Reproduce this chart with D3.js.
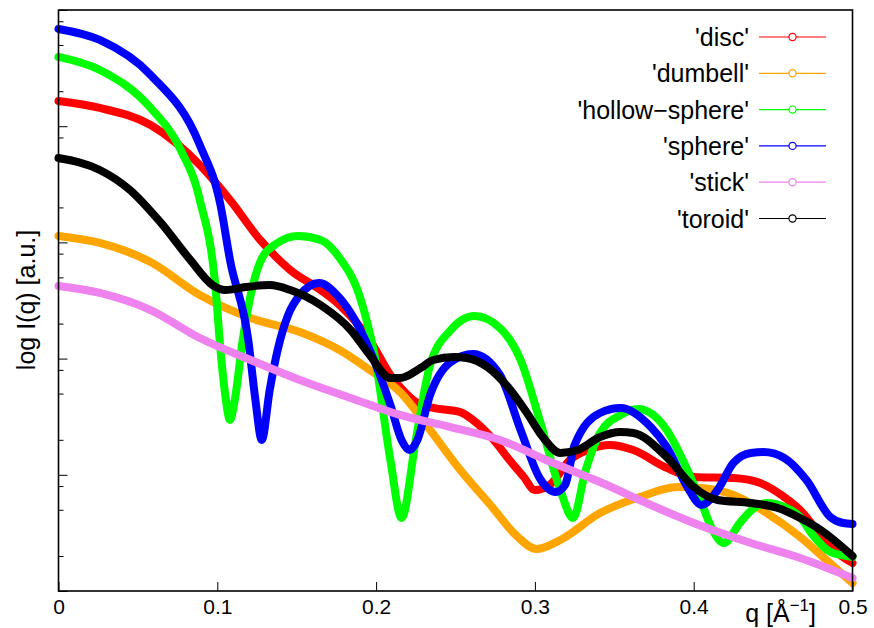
<!DOCTYPE html>
<html>
<head>
<meta charset="utf-8">
<script src="https://cdn.jsdelivr.net/npm/d3@7"></script>
<style>
  html, body { margin: 0; padding: 0; background: #fff; }
  text { font-family: "Liberation Sans", Arial, sans-serif; }
</style>
</head>
<body>
<svg id="chart" width="874" height="628"></svg>
<script>
// ---- data: [q (1/Å), log10 I(q)] ----
const seriesNames = ["'disc'", "'dumbell'", "'hollow\u2212sphere'", "'sphere'", "'stick'", "'toroid'"];
const seriesColors = ["#ff0000", "#ffa500", "#00ff00", "#0000ff", "#ee82ee", "#000000"];

const disc = [[0,4.217],[0.026,4.157],[0.058,4.010],[0.089,3.666],[0.108,3.365],[0.127,3.021],[0.146,2.762],[0.165,2.590],[0.177,2.461],[0.196,2.160],[0.209,1.859],[0.215,1.756],[0.226,1.618],[0.236,1.575],[0.253,1.540],[0.261,1.472],[0.274,1.300],[0.284,1.127],[0.293,0.981],[0.300,0.869],[0.310,0.921],[0.322,1.127],[0.335,1.222],[0.347,1.256],[0.362,1.213],[0.383,1.059],[0.400,0.981],[0.425,0.972],[0.442,0.929],[0.457,0.809],[0.467,0.697],[0.480,0.482],[0.492,0.310],[0.500,0.241]];

const dumbell = [[0,3.055],[0.026,2.995],[0.058,2.831],[0.089,2.547],[0.121,2.349],[0.152,2.229],[0.177,2.074],[0.196,1.902],[0.215,1.713],[0.234,1.386],[0.253,1.041],[0.272,0.740],[0.288,0.482],[0.301,0.361],[0.316,0.439],[0.341,0.671],[0.366,0.809],[0.390,0.895],[0.405,0.886],[0.425,0.826],[0.446,0.671],[0.467,0.465],[0.480,0.310],[0.500,0.069]];

const hollowSphere = [[0,4.596],[0.026,4.484],[0.058,4.157],[0.077,3.795],[0.089,3.365],[0.099,2.590],[0.102,2.074],[0.105,1.687],[0.108,1.472],[0.111,1.644],[0.116,2.160],[0.121,2.547],[0.127,2.831],[0.136,2.978],[0.151,3.055],[0.165,3.021],[0.177,2.866],[0.190,2.522],[0.199,2.031],[0.209,1.127],[0.216,0.628],[0.225,1.300],[0.234,1.945],[0.247,2.246],[0.262,2.367],[0.278,2.263],[0.291,1.988],[0.303,1.472],[0.316,0.869],[0.324,0.628],[0.332,1.041],[0.341,1.360],[0.354,1.515],[0.365,1.566],[0.383,1.386],[0.394,1.102],[0.405,0.757],[0.411,0.551],[0.419,0.413],[0.429,0.585],[0.438,0.714],[0.446,0.757],[0.457,0.723],[0.467,0.637],[0.475,0.482],[0.486,0.336],[0.500,0.293]];

const sphere = [[0,4.837],[0.026,4.742],[0.058,4.441],[0.089,3.838],[0.102,3.322],[0.108,2.849],[0.1195,2.160],[0.124,1.644],[0.128,1.300],[0.133,1.730],[0.138,2.074],[0.1446,2.375],[0.152,2.547],[0.164,2.651],[0.177,2.522],[0.196,2.074],[0.209,1.601],[0.216,1.300],[0.221,1.213],[0.226,1.300],[0.234,1.687],[0.247,1.971],[0.261,2.040],[0.278,1.859],[0.291,1.386],[0.303,0.972],[0.313,0.852],[0.319,0.912],[0.325,1.256],[0.341,1.532],[0.354,1.575],[0.373,1.411],[0.383,1.239],[0.396,0.895],[0.405,0.740],[0.415,0.869],[0.425,1.102],[0.436,1.188],[0.444,1.196],[0.457,1.145],[0.471,0.955],[0.486,0.637],[0.494,0.585],[0.500,0.577]];

const stick = [[0,2.625],[0.026,2.565],[0.058,2.418],[0.089,2.177],[0.121,1.988],[0.152,1.816],[0.184,1.661],[0.215,1.515],[0.247,1.411],[0.278,1.300],[0.310,1.110],[0.341,0.938],[0.373,0.740],[0.405,0.559],[0.436,0.413],[0.467,0.284],[0.500,0.112]];

const toroid = [[0,3.726],[0.026,3.623],[0.045,3.451],[0.064,3.176],[0.083,2.849],[0.097,2.633],[0.105,2.590],[0.118,2.616],[0.133,2.633],[0.146,2.590],[0.165,2.461],[0.184,2.246],[0.196,2.031],[0.209,1.833],[0.215,1.833],[0.228,1.919],[0.236,1.988],[0.249,2.014],[0.257,2.005],[0.270,1.928],[0.283,1.756],[0.295,1.532],[0.305,1.325],[0.316,1.188],[0.327,1.213],[0.341,1.325],[0.354,1.368],[0.362,1.360],[0.383,1.153],[0.400,0.895],[0.415,0.783],[0.436,0.757],[0.453,0.714],[0.467,0.628],[0.480,0.525],[0.500,0.301]];

const xTickValues = [0, 0.1, 0.2, 0.3, 0.4, 0.5];
const xTickLabels = ["0", "0.1", "0.2", "0.3", "0.4", "0.5"];
const yDecades = [1, 10, 100, 1000, 10000, 100000];
const yMinorMultipliers = [2, 5, 8];

// ---- layout ----
const svg = d3.select("#chart");
const L = 58.5, R = 852.5, T = 10, B = 591;

const x = d3.scaleLinear().domain([0, 0.5]).range([L, R]);
const y = d3.scaleLog().domain([1, 1e5]).range([B, T]);

svg.append("rect").attr("width", 874).attr("height", 628).attr("fill", "#fff");

const data = [disc, dumbell, hollowSphere, sphere, stick, toroid];

const line = d3.line()
  .x(d => x(d[0]))
  .y(d => y(Math.pow(10, d[1])))
  .curve(d3.curveMonotoneX);

const plot = svg.append("g");
data.forEach((s, i) => {
  plot.append("path")
    .attr("d", line(s))
    .attr("fill", "none")
    .attr("stroke", seriesColors[i])
    .attr("stroke-width", 8)
    .attr("stroke-linecap", "round")
    .attr("stroke-linejoin", "round");
});

// ---- axes ----
const xAxis = d3.axisBottom(x)
  .tickValues(xTickValues)
  .tickFormat((d, i) => xTickLabels[i])
  .tickSize(-9)
  .tickPadding(8);
const gx = svg.append("g").attr("transform", `translate(0,${B})`).call(xAxis);
gx.select(".domain").remove();
gx.selectAll("line").attr("stroke", "#000").attr("stroke-width", 1);
gx.selectAll("text").attr("font-size", 21).attr("fill", "#000")
  .attr("font-family", "Liberation Sans, Arial, sans-serif");

const minorVals = [];
yDecades.forEach(dv => yMinorMultipliers.forEach(m => { if (dv * m < 1e5) minorVals.push(dv * m); }));

const yMajor = d3.axisLeft(y).tickValues(yDecades).tickFormat("").tickSize(-9);
const yMinor = d3.axisLeft(y).tickValues(minorVals).tickFormat("").tickSize(-5);
const gy1 = svg.append("g").attr("transform", `translate(${L},0)`).call(yMajor);
const gy2 = svg.append("g").attr("transform", `translate(${L},0)`).call(yMinor);
[gy1, gy2].forEach(g => {
  g.select(".domain").remove();
  g.selectAll("line").attr("stroke", "#000").attr("stroke-width", 1);
});

// frame
svg.append("rect")
  .attr("x", L).attr("y", T).attr("width", R - L).attr("height", B - T)
  .attr("fill", "none").attr("stroke", "#000").attr("stroke-width", 1.6);

// axis labels
svg.append("text")
  .attr("transform", `translate(35,300) rotate(-90)`)
  .attr("text-anchor", "middle")
  .attr("font-size", 25)
  .text("log I(q) [a.u.]");

const xl = svg.append("text")
  .attr("x", 816).attr("y", 622)
  .attr("text-anchor", "end")
  .attr("font-size", 25);
xl.append("tspan").text("q [Å");
xl.append("tspan").attr("dy", -11).attr("font-size", 17).text("\u22121");
xl.append("tspan").attr("dy", 11).text("]");

// legend
const legend = svg.append("g");
seriesNames.forEach((name, i) => {
  const yy = 37 + i * 36.3;
  legend.append("text")
    .attr("x", 749).attr("y", yy + 9)
    .attr("text-anchor", "end")
    .attr("font-size", 25)
    .text(name);
  legend.append("line")
    .attr("x1", 759).attr("x2", 826).attr("y1", yy).attr("y2", yy)
    .attr("stroke", seriesColors[i]).attr("stroke-width", 1.2);
  legend.append("circle")
    .attr("cx", 792.5).attr("cy", yy).attr("r", 3.6)
    .attr("fill", "#fff").attr("stroke", seriesColors[i]).attr("stroke-width", 1.2);
});
</script>
</body>
</html>
